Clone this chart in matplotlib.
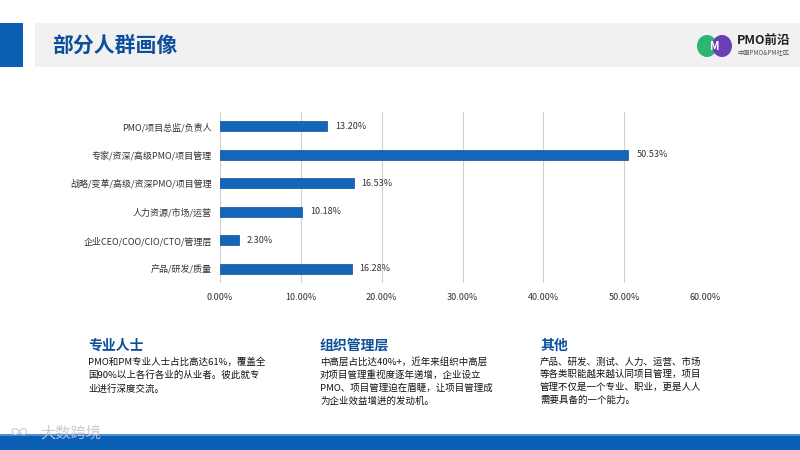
import matplotlib.pyplot as plt
import numpy as np
from matplotlib.patches import Rectangle, Ellipse

plt.rcParams["font.family"] = ["Noto Sans CJK SC", "DejaVu Sans"]

categories = ["PMO/项目总监/负责人", "专家/资深/高级PMO/项目管理", "战略/变革/高级/资深PMO/项目管理",
              "人力资源/市场/运营", "企业CEO/COO/CIO/CTO/管理层", "产品/研发/质量"]
values = [13.20, 50.53, 16.53, 10.18, 2.30, 16.28]
xticks = [0, 10, 20, 30, 40, 50, 60]

headings = ["专业人士", "组织管理层", "其他"]
bodies = ["PMO和PM专业人士占比高达61%，覆盖全\n国90%以上各行各业的从业者。彼此就专\n业进行深度交流。",
          "中高层占比达40%+，近年来组织中高层\n对项目管理重视度逐年递增，企业设立\nPMO、项目管理迫在眉睫，让项目管理成\n为企业效益增进的发动机。",
          "产品、研发、测试、人力、运营、市场\n等各类职能越来越认同项目管理，项目\n管理不仅是一个专业、职业，更是人人\n需要具备的一个能力。"]

blue = "#1565b8"
dark = "#0d4f9c"

fig = plt.figure(figsize=(8, 4.5), dpi=100)

# header band
fig.patches.append(Rectangle((35 / 800, 1 - 67 / 450), 765 / 800, 44 / 450, transform=fig.transFigure,
                             facecolor="#f1f1f1", edgecolor="none", zorder=0))
fig.patches.append(Rectangle((0, 1 - 67 / 450), 23 / 800, 44 / 450, transform=fig.transFigure,
                             facecolor="#0a5fb4", edgecolor="none", zorder=1))
fig.text(52 / 800, 1 - 45 / 450, "部分人群画像", fontsize=15, fontweight="bold", color=dark, va="center")

# logo
fig.patches.append(Ellipse((707 / 800, 1 - 46 / 450), 20 / 800, 22 / 450, transform=fig.transFigure,
                           facecolor="#2bb673", edgecolor="none"))
fig.patches.append(Ellipse((722 / 800, 1 - 46 / 450), 20 / 800, 22 / 450, transform=fig.transFigure,
                           facecolor="#6a3fb5", edgecolor="none"))
fig.text(715 / 800, 1 - 46 / 450, "M", fontsize=8, fontweight="bold", color="white", ha="center", va="center")
fig.text(737 / 800, 1 - 40 / 450, "PMO前沿", fontsize=9, fontweight="bold", color="#222222", va="center")
fig.text(737 / 800, 1 - 52 / 450, "中国PMO&PM社区", fontsize=4.5, color="#555555", va="center")

# chart
ax = fig.add_axes([220 / 800, 1 - 283 / 450, 485 / 800, 171 / 450])
y = np.arange(len(categories))
ax.barh(y, values, height=0.36, color=blue, edgecolor="#0d4f9c", linewidth=0.5, zorder=3)
for yi, v in zip(y, values):
    ax.text(v + 1.0, yi, "%.2f%%" % v, fontsize=6.5, color="#333333", va="center")
ax.set_ylim(len(categories) - 0.5, -0.5)
ax.set_xlim(0, 60)
ax.set_yticks(y)
ax.set_yticklabels(categories, fontsize=6.5, color="#333333")
ax.set_xticks(xticks)
ax.set_xticklabels(["%.2f%%" % t for t in xticks], fontsize=6.5, color="#333333")
ax.grid(axis="x", color="#d0d0d0", linewidth=0.8, zorder=0)
for s in ax.spines.values():
    s.set_visible(False)
ax.tick_params(length=0, pad=6)
ax.tick_params(axis="x", pad=7)

# text sections
xs = [88, 320, 540]
for x, h, b in zip(xs, headings, bodies):
    fig.text(x / 800, 1 - 346 / 450, h, fontsize=10, fontweight="bold", color=dark, va="center")
    fig.text(x / 800, 1 - 357 / 450, b, fontsize=6.8, color="#111111", va="top", linespacing=1.5)

# footer
fig.patches.append(Rectangle((0, 0), 1, 14 / 450, transform=fig.transFigure,
                             facecolor="#0a5fb4", edgecolor="none"))
fig.patches.append(Rectangle((0, 14 / 450), 1, 2 / 450, transform=fig.transFigure,
                             facecolor="#4a90d9", edgecolor="none"))
fig.text(40 / 800, 1 - 433 / 450, "大数跨境", fontsize=11, color="#c8c8c8", alpha=0.9, va="center")
fig.text(10 / 800, 1 - 433 / 450, "∞", fontsize=12, color="#c8c8c8", alpha=0.9, va="center")

fig.savefig("out.png", dpi=100)
